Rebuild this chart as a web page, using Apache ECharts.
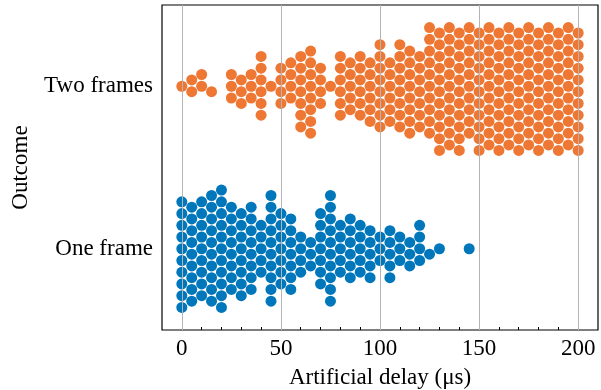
<!DOCTYPE html>
<html><head><meta charset="utf-8">
<script src="https://cdn.jsdelivr.net/npm/echarts@6/dist/echarts.min.js"></script>
<style>html,body{margin:0;padding:0;background:#fff}#c{width:601px;height:390px}</style>
</head><body><div id="c"></div>
<script>
// ---- data ----
const categories = ['One frame', 'Two frames'];
const delays = [0,5,10,15,20,25,30,35,40,45,50,55,60,65,70,75,80,85,90,95,100,105,110,115,120,125,130,135,140,145,150,155,160,165,170,175,180,185,190,195,200];
const oneFrameCounts = [10,9,9,10,11,8,8,8,5,10,7,7,4,3,7,10,5,6,5,5,3,5,3,3,4,1,1,0,0,1,0,0,0,0,0,0,0,0,0,0,0];
const twoFramesCounts = [1,2,2,1,0,3,3,3,6,1,4,4,7,8,4,1,6,5,6,6,8,6,8,8,7,10,11,11,11,10,11,11,11,11,11,11,11,11,11,11,11];
const xMajorTicks = [0,50,100,150,200];
const xMinorTicks = [10,20,30,40,60,70,80,90,110,120,130,140,160,170,180,190];
const xLabel = 'Artificial delay (μs)';
const yLabel = 'Outcome';

// ---- styles ----
const FONT = 'Liberation Serif';
const colors = {'One frame': '#0077BB', 'Two frames': '#EE7733'};
const DOT = 11;          // drawn marker diameter (px)
const RADIUS = 5.59;     // swarm collision radius (px)

const chart = echarts.init(document.getElementById('c'), null, {renderer: 'canvas'});
const textStyle = {fontFamily: FONT, fontSize: 23, color: '#000'};
const hiddenX = (pos, ticks, len) => ({
  type: 'value', min: -10, max: 210, position: pos,
  axisLine: {show: false}, splitLine: {show: false},
  axisLabel: {show: false},
  axisTick: {show: true, inside: true, length: len, customValues: ticks, lineStyle: {color: '#000', width: 1}}
});
chart.setOption({
  animation: false,
  grid: {left: 162, right: 3, top: 5, bottom: 60, show: true, borderColor: '#000', borderWidth: 1.2,
         containLabel: false, outerBoundsMode: 'none'},
  xAxis: [
    {
      type: 'value', min: -10, max: 210, position: 'bottom',
      name: xLabel, nameLocation: 'middle', nameGap: 36, nameTextStyle: textStyle,
      axisLine: {show: false}, splitLine: {show: false},
      axisTick: {show: true, inside: true, length: 5, customValues: xMajorTicks, lineStyle: {color: '#000', width: 1}},
      axisLabel: Object.assign({customValues: xMajorTicks, margin: 7}, textStyle)
    },
    hiddenX('bottom', xMinorTicks, 3),
    hiddenX('top', xMajorTicks, 5)
  ],
  yAxis: [
    {
      type: 'category', data: categories,
      name: yLabel, nameLocation: 'middle', nameGap: 130, nameRotate: 90, nameTextStyle: textStyle,
      axisLine: {show: false}, axisTick: {show: false}, splitLine: {show: false},
      axisLabel: Object.assign({margin: 9}, textStyle)
    },
    {type: 'value', min: 0, max: 2, show: false}
  ],
  series: []
});

// ---- beeswarm layout (seaborn-style) in pixel space ----
function beeswarm(xsPx, r) {
  const placed = [];
  const need = 4 * r * r;
  for (const x of xsPx) {
    let start = placed.length;
    while (start > 0 && (x - placed[start - 1].x) < 2 * r) start--;
    const nb = placed.slice(start);
    const cands = [0];
    let leftFirst = true;
    for (const n of nb) {
      const dx = x - n.x;
      const d = Math.sqrt(Math.max(need - dx * dx, 0)) * 1.05;
      const cl = n.c + d, cr = n.c - d;
      if (leftFirst) cands.push(cl, cr); else cands.push(cr, cl);
      leftFirst = !leftFirst;
    }
    const order = cands.map((c, i) => [Math.abs(c), i, c]).sort((a, b) => (a[0] - b[0]) || (a[1] - b[1]));
    let chosen = 0;
    if (nb.length) {
      for (const o of order) {
        const c = o[2];
        if (nb.every(n => (n.x - x) * (n.x - x) + (n.c - c) * (n.c - c) >= need - 1e-9)) { chosen = c; break; }
      }
    }
    placed.push({x: x, c: chosen});
  }
  return placed;
}

const y0 = chart.convertToPixel({yAxisIndex: 1}, 0);
const y1 = chart.convertToPixel({yAxisIndex: 1}, 1);
const pxPerY = Math.abs(y0 - y1);

function buildSeries(name, counts, centerValue) {
  const values = [];
  delays.forEach((d, i) => { for (let k = 0; k < counts[i]; k++) values.push(d); });
  const xsPx = values.map(v => chart.convertToPixel({xAxisIndex: 0}, v));
  const sw = beeswarm(xsPx, RADIUS);
  const data = values.map((v, i) => [v, centerValue - sw[i].c / pxPerY]);
  return {
    name: name, type: 'scatter', xAxisIndex: 0, yAxisIndex: 1,
    symbol: 'circle', symbolSize: DOT, z: 3,
    itemStyle: {color: colors[name], opacity: 1},
    data: data
  };
}

chart.setOption({
  series: [
    {
      type: 'scatter', xAxisIndex: 0, yAxisIndex: 1, data: [], z: 1, silent: true,
      markLine: {
        silent: true, symbol: 'none', label: {show: false}, animation: false,
        lineStyle: {color: '#b4b4b4', width: 1, type: 'solid'},
        data: xMajorTicks.map(v => ({xAxis: v}))
      }
    },
    buildSeries('Two frames', twoFramesCounts, 1.5),
    buildSeries('One frame', oneFrameCounts, 0.5)
  ]
});
</script>
</body></html>
